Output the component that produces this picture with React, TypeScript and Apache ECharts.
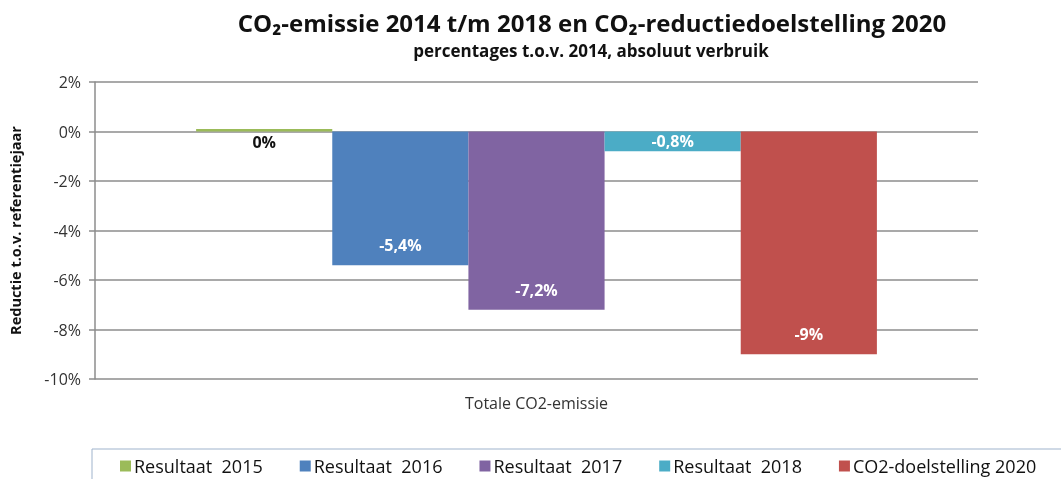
import React, { useEffect, useRef } from "react";
import * as echarts from "echarts";

const categories = ["Totale CO2-emissie"];
const seriesNames = ["Resultaat  2015", "Resultaat  2016", "Resultaat  2017", "Resultaat  2018", "CO2-doelstelling 2020"];
const seriesValues = [0.1, -5.4, -7.2, -0.8, -9.0];
const seriesLabels = ["0%", "-5,4%", "-7,2%", "-0,8%", "-9%"];
const seriesColors = ["#9BBB59", "#4F81BD", "#8064A2", "#4BACC6", "#C0504D"];
const labelColors = ["#111111", "#ffffff", "#ffffff", "#ffffff", "#ffffff"];
const labelPositions = ["bottom", "insideBottom", "insideBottom", "inside", "insideBottom"];
const yTicks = [-10, -8, -6, -4, -2, 0, 2];

const FONT = "'Open Sans', 'Noto Sans', sans-serif";

export default function App() {
  const ref = useRef<HTMLDivElement>(null);
  useEffect(() => {
    if (!ref.current) return;
    const chart = echarts.init(ref.current, undefined, { renderer: "svg" });
    chart.setOption({
      animation: false,
      textStyle: { fontFamily: FONT },
      title: [
        {
          text: "CO₂-emissie 2014 t/m 2018 en CO₂-reductiedoelstelling 2020",
          left: 587,
          top: 5,
          textAlign: "center",
          textStyle: { fontFamily: FONT, fontSize: 24, fontWeight: "bold", color: "#111" },
        },
        {
          text: "percentages t.o.v. 2014, absoluut verbruik",
          left: 586,
          top: 37,
          textAlign: "center",
          textStyle: { fontFamily: FONT, fontSize: 17, fontWeight: "bold", color: "#111" },
        },
      ],
      grid: { left: 94, right: 83, top: 82, bottom: 100, containLabel: false },
      xAxis: {
        type: "category",
        data: categories,
        position: "bottom",
        axisLine: { show: false, onZero: false },
        axisTick: { show: false },
        axisLabel: { color: "#333", fontSize: 16, fontFamily: FONT, margin: 16 },
      },
      yAxis: {
        type: "value",
        min: yTicks[0],
        max: yTicks[yTicks.length - 1],
        interval: 2,
        name: "Reductie t.o.v. referentiejaar",
        nameLocation: "middle",
        nameGap: 72,
        nameRotate: 90,
        nameTextStyle: { fontFamily: FONT, fontSize: 14.5, fontWeight: "bold", color: "#111" },
        axisLine: { show: true, lineStyle: { color: "#8c8c8c", width: 1.5 } },
        axisTick: { show: true, length: 6, lineStyle: { color: "#8c8c8c", width: 1.5 } },
        axisLabel: {
          color: "#333",
          fontSize: 16,
          fontFamily: FONT,
          margin: 14,
          formatter: (v: number) => `${v}%`,
        },
        splitLine: { show: true, lineStyle: { color: "#8c8c8c", width: 1.5 } },
      },
      legend: {
        left: 115,
        top: 452,
        itemWidth: 11,
        itemHeight: 11,
        itemGap: 37,
        icon: "rect",
        textStyle: { fontFamily: FONT, fontSize: 18, color: "#111", padding: [0, 0, 0, -2] },
        data: seriesNames,
      },
      graphic: [
        {
          type: "rect",
          shape: { x: 92, y: 449, width: 1000, height: 60 },
          style: { fill: "none", stroke: "#9fb3cc", lineWidth: 1 },
          silent: true,
        },
      ],
      series: seriesNames.map((name, i) => ({
        name,
        type: "bar",
        data: [seriesValues[i]],
        itemStyle: { color: seriesColors[i] },
        barGap: "0%",
        barCategoryGap: "22.9%",
        label: {
          show: true,
          position: labelPositions[i],
          distance: i === 0 ? 2 : 12,
          formatter: () => seriesLabels[i],
          color: labelColors[i],
          fontFamily: FONT,
          fontSize: 16,
          fontWeight: "bold",
        },
      })),
    });
    return () => chart.dispose();
  }, []);
  return (
    <div
      ref={ref}
      style={{ position: "fixed", left: 0, top: 0, width: 1061, height: 479 }}
    />
  );
}
